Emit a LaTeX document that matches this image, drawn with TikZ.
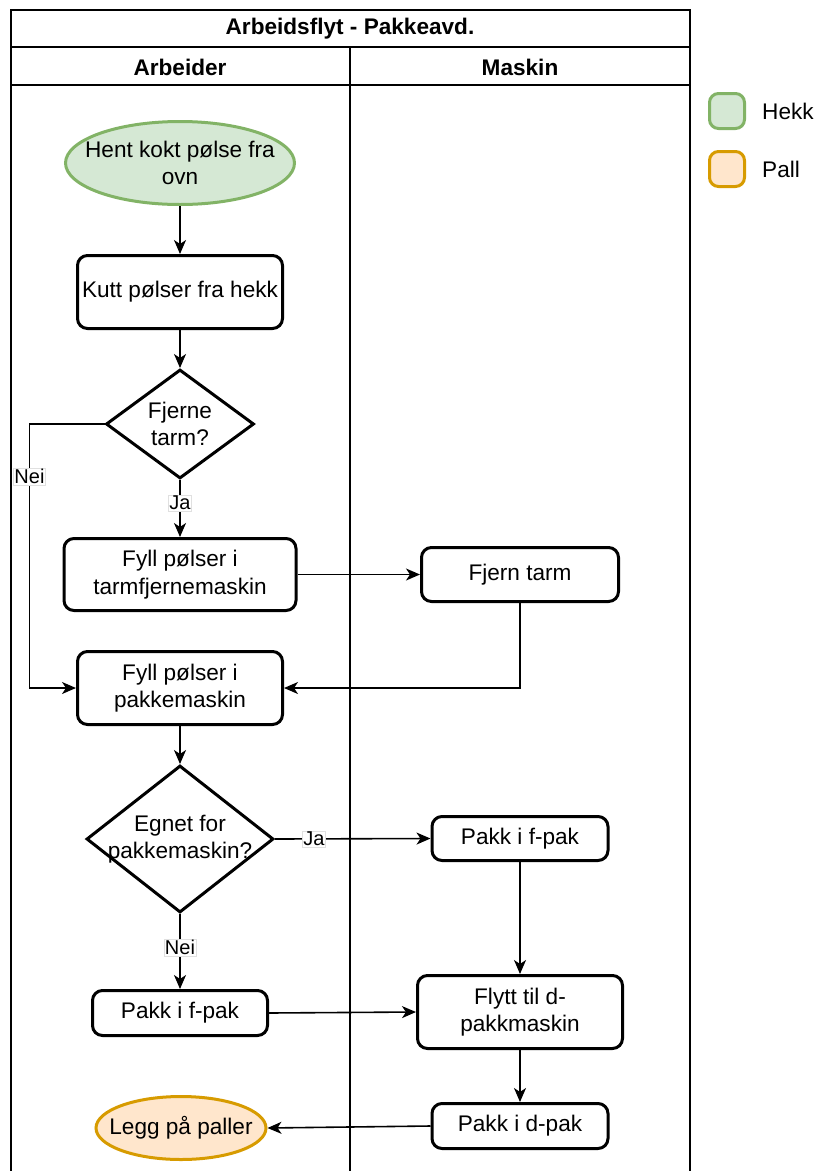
\documentclass[tikz,border=0pt]{standalone}
\usepackage{fontspec}
\setmainfont{Liberation Sans}
\usetikzlibrary{shapes.geometric,arrows.meta}

\definecolor{hekkfill}{HTML}{D5E8D4}
\definecolor{hekkline}{HTML}{82B366}
\definecolor{pallfill}{HTML}{FFE6CC}
\definecolor{pallline}{HTML}{D79B00}

\begin{document}
\begin{tikzpicture}[x=1pt,y=-1pt,
  font=\fontsize{22.6}{27.5}\selectfont,
  pool/.style={line width=2pt},
  proc/.style={draw,rounded corners=10pt,line width=3pt,inner sep=0pt,align=center},
  term/.style={ellipse,draw,line width=3pt,inner sep=0pt},
  dec/.style={diamond,draw,line width=3pt,inner sep=0pt},
  hekk/.style={fill=hekkfill,draw=hekkline},
  pall/.style={fill=pallfill,draw=pallline},
  txt/.style={align=center,inner sep=0pt},
  flow/.style={line width=1.6pt,-{Stealth[length=14pt,width=12pt,inset=4pt]}},
  tag/.style={fill=white,draw=black!12,line width=0.5pt,inner sep=1pt,font=\fontsize{20}{23}\selectfont}]
\useasboundingbox (0,0) rectangle (816,1171);

% pool and lanes
\draw[pool] (11,1171) |- (690,10) -- (690,1171);
\draw[pool] (11,47) -- (690,47) (11,85) -- (690,85) (350,47) -- (350,1171);
\node[font=\fontsize{22.6}{27.5}\selectfont\bfseries] (title) at (350,29) {Arbeidsflyt - Pakkeavd.};
\node[font=\fontsize{22.6}{27.5}\selectfont\bfseries] (arbeider) at (180,67) {Arbeider};
\node[font=\fontsize{22.6}{27.5}\selectfont\bfseries] (maskin) at (520,67) {Maskin};

% legend
\node[draw,rounded corners=9pt,line width=3pt,hekk,minimum size=35,inner sep=0pt] (hekkbox) at (727,111) {};
\node[anchor=west,inner sep=0pt] (hekktxt) at (762,111) {Hekk};
\node[draw,rounded corners=9pt,line width=3pt,pall,minimum size=35,inner sep=0pt] (pallbox) at (727,169) {};
\node[anchor=west,inner sep=0pt] (palltxt) at (762,169) {Pall};

% Arbeider
\node[term,hekk,minimum width=229,minimum height=83] (hent) at (180,163) {};
\node[txt] at (hent) {Hent kokt pølse fra\\ovn};
\node[proc,minimum width=205,minimum height=73] (kutt) at (180,292) {Kutt pølser fra hekk};
\node[dec,minimum width=148,minimum height=109] (fjerne) at (180,424) {};
\node[txt] at (fjerne) {Fjerne\\tarm?};
\node[proc,minimum width=232,minimum height=72] (fylltarm) at (180,574.5) {Fyll pølser i\\tarmfjernemaskin};
\node[proc,minimum width=205,minimum height=73] (fyllpakk) at (180,688) {Fyll pølser i\\pakkemaskin};
\node[dec,minimum width=187,minimum height=147] (egnet) at (180,839) {};
\node[txt] at (egnet) {Egnet for\\pakkemaskin?};
\node[proc,minimum width=175,minimum height=45] (fpakL) at (180,1013) {Pakk i f-pak};
\node[term,pall,minimum width=170,minimum height=63] (legg) at (181,1128) {};
\node[txt] at (legg) {Legg på paller};

% Maskin
\node[proc,minimum width=197,minimum height=54] (fjern) at (520,574.5) {Fjern tarm};
\node[proc,minimum width=176,minimum height=44] (fpakR) at (520,838.5) {Pakk i f-pak};
\node[proc,minimum width=205,minimum height=73] (flytt) at (520,1012) {Flytt til d-\\pakkmaskin};
\node[proc,minimum width=176,minimum height=45] (dpak) at (520,1126) {Pakk i d-pak};

% flyt
\draw[flow] (hent) -- (kutt);
\draw[flow] (kutt) -- (fjerne);
\draw[flow] (fjerne) -- node[tag,pos=0.4]{Ja} (fylltarm);
\draw[flow] (fjerne.west) -- ++(-75,0) |- node[tag,pos=0.1]{Nei} (fyllpakk.west);
\draw[flow] (fylltarm.east) -- (fjern.west);
\draw[flow] (fjern.south) |- (fyllpakk.east);
\draw[flow] (fyllpakk) -- (egnet);
\draw[flow] (egnet.east) -- node[tag,pos=0.25]{Ja} (fpakR.west);
\draw[flow] (egnet.south) -- node[tag,pos=0.45]{Nei} (fpakL.north);
\draw[flow] (fpakR) -- (flytt);
\draw[flow] (fpakL.east) -- (flytt.west);
\draw[flow] (flytt) -- (dpak);
\draw[flow] (dpak.west) -- (legg.east);

\end{tikzpicture}
\end{document}
